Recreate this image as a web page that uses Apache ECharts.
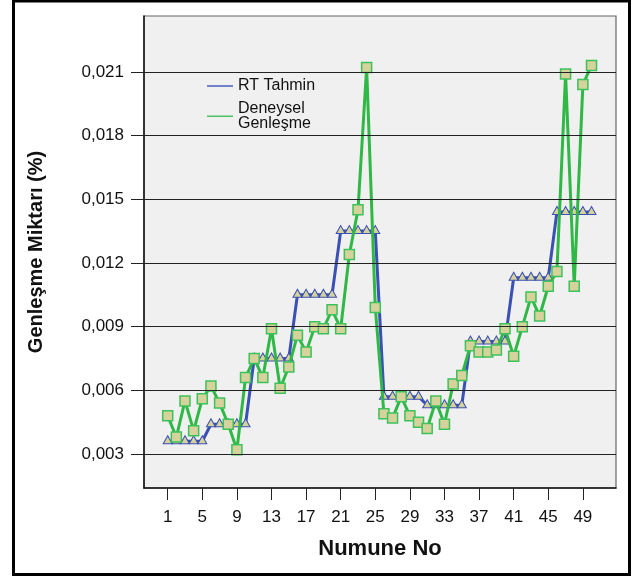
<!DOCTYPE html>
<html><head><meta charset="utf-8">
<script src="https://cdn.jsdelivr.net/npm/echarts@6/dist/echarts.min.js"></script>
<style>html,body{margin:0;padding:0;background:#fff}#c{width:632px;height:576px}</style>
</head><body><div id="c"></div>
<script>
const categories = [1,2,3,4,5,6,7,8,9,10,11,12,13,14,15,16,17,18,19,20,21,22,23,24,25,26,27,28,29,30,31,32,33,34,35,36,37,38,39,40,41,42,43,44,45,46,47,48,49,50];
const rtTahmin = [0.0036,0.0036,0.0036,0.0036,0.0036, 0.0044,0.0044,0.0044,0.0044,0.0044,
  0.0075,0.0075,0.0075,0.0075,0.0075, 0.0105,0.0105,0.0105,0.0105,0.0105,
  0.0135,0.0135,0.0135,0.0135,0.0135, 0.0057,0.0057,0.0057,0.0057,0.0057,
  0.0053,0.0053,0.0053,0.0053,0.0053, 0.0083,0.0083,0.0083,0.0083,0.0083,
  0.0113,0.0113,0.0113,0.0113,0.0113, 0.0144,0.0144,0.0144,0.0144,0.0144];
const deneysel = [0.0048,0.0038,0.0055,0.0041,0.0056,0.0062,0.0054,0.0044,0.0032,0.0066,
  0.0075,0.0066,0.0089,0.0061,0.0071,0.0086,0.0078,0.0090,0.0089,0.0098,
  0.0089,0.0124,0.0145,0.0212,0.0099,0.0049,0.0047,0.0057,0.0048,0.0045,
  0.0042,0.0055,0.0044,0.0063,0.0067,0.0081,0.0078,0.0078,0.0079,0.0089,
  0.0076,0.0090,0.0104,0.0095,0.0109,0.0116,0.0209,0.0109,0.0204,0.0213];
const yTicks = [0.003,0.006,0.009,0.012,0.015,0.018,0.021];
const xTicks = [1,5,9,13,17,21,25,29,33,37,41,45,49];
const seriesNames = ['RT Tahmin','Deneysel\nGenleşme'];
const xTitle = 'Numune No';
const yTitle = 'Genleşme Miktarı (%)';

const FONT = 'Liberation Sans, Arial, sans-serif';
const BLUE = '#3a50b4';
const GREEN = '#2fb846';
const FILL = '#d6d29c';

const chart = echarts.init(document.getElementById('c'), null, {renderer:'canvas'});
chart.setOption({
  animation: false,
  backgroundColor: '#fff',
  textStyle: {fontFamily: FONT},
  grid: {left:144, top:16, width:472, height:472, show:true, backgroundColor:'#f0f0f0', borderColor:'#666', borderWidth:1.2, containLabel:false},
  legend: {
    orient:'vertical', left:202, top:73, itemWidth:26, itemHeight:1.6, itemGap:7, icon:'rect',
    textStyle:{fontFamily:FONT, fontSize:16, color:'#111', lineHeight:14.5},
    data:[{name:seriesNames[0], itemStyle:{color:'#5566c4', borderWidth:0}},
          {name:seriesNames[1], itemStyle:{color:'#55c46c', borderWidth:0}}]
  },
  xAxis: {
    type:'value', min:-1.74, max:52.83,
    name:xTitle, nameLocation:'middle', nameGap:50,
    nameTextStyle:{fontFamily:FONT, fontSize:22, fontWeight:'bold', color:'#111'},
    axisLine:{show:true, onZero:false, lineStyle:{color:'#111', width:1.5}},
    axisTick:{show:true, length:12, customValues:xTicks, lineStyle:{color:'#222', width:1}},
    axisLabel:{customValues:xTicks, margin:21, fontSize:17, color:'#111', fontFamily:FONT},
    splitLine:{show:false}
  },
  yAxis: {
    type:'value', min:0.0014, max:0.02363,
    name:yTitle, nameLocation:'middle', nameGap:98, nameRotate:90,
    nameTextStyle:{fontFamily:FONT, fontSize:20, fontWeight:'bold', color:'#111'},
    axisLine:{show:true, onZero:false, lineStyle:{color:'#111', width:1.5}},
    axisTick:{show:true, length:13, customValues:yTicks, lineStyle:{color:'#222', width:1}},
    axisLabel:{customValues:yTicks, margin:20, fontSize:17, color:'#111', fontFamily:FONT,
      formatter:v => v.toFixed(3).replace('.', ',')},
    splitLine:{show:false}
  },
  series: [
    {
      name:'grid', type:'line', data:[], z:1, silent:true,
      markLine:{silent:true, symbol:'none', precision:6, label:{show:false},
        lineStyle:{color:'#222', width:1, type:'solid'},
        data: yTicks.map(v => ({yAxis:v}))}
    },
    {
      name:seriesNames[0], type:'line', z:3,
      data: categories.map((c,i) => [c, rtTahmin[i]]),
      symbol:'triangle', symbolSize:[9,8], symbolOffset:[0,-1.5], showAllSymbol:true,
      lineStyle:{color:BLUE, width:3},
      itemStyle:{color:FILL, borderColor:BLUE, borderWidth:1}
    },
    {
      name:seriesNames[1], type:'line', z:4,
      data: categories.map((c,i) => [c, deneysel[i]]),
      symbol:'rect', symbolSize:10, showAllSymbol:true,
      lineStyle:{color:GREEN, width:3},
      itemStyle:{color:FILL, borderColor:'#3cc25a', borderWidth:1.5}
    }
  ],
  graphic: [
    {type:'rect', silent:true, z:100, shape:{x:13.5, y:1, width:616, height:573.5},
      style:{fill:'none', stroke:'#000', lineWidth:3}}
  ]
});
</script></body></html>
